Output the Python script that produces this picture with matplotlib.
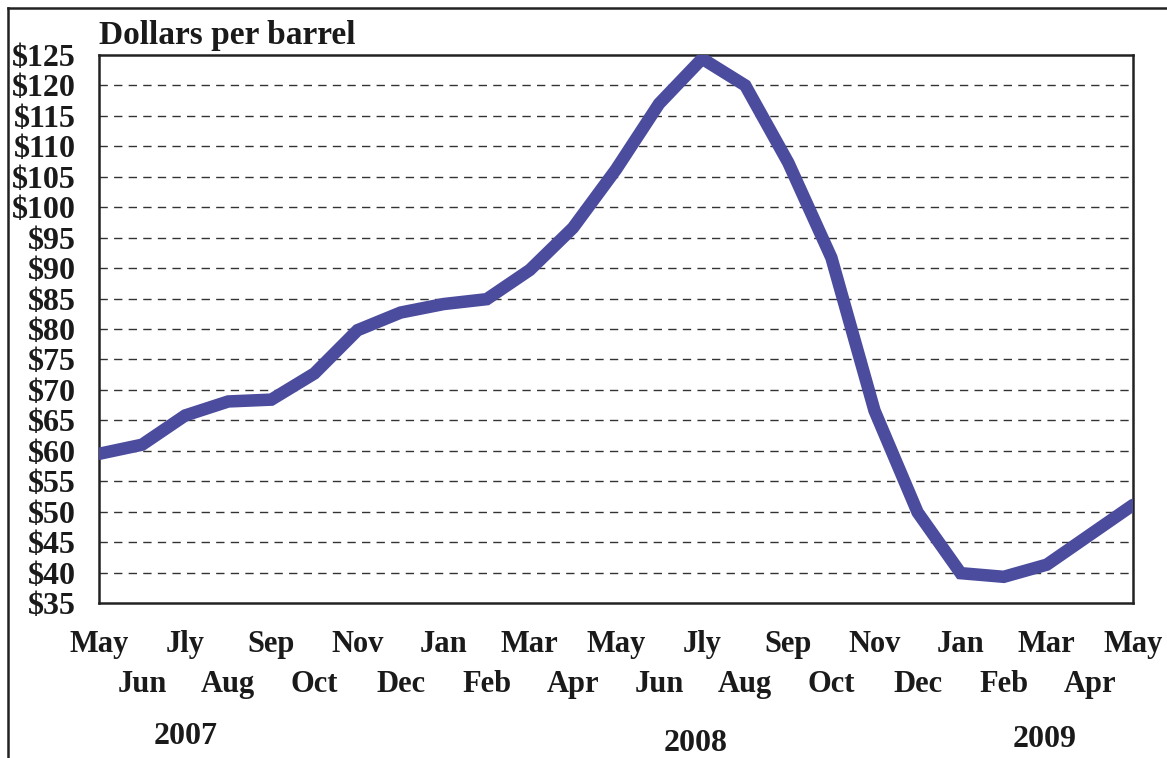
import matplotlib.pyplot as plt
from matplotlib.lines import Line2D
from matplotlib.ticker import FixedLocator, FixedFormatter

months = ["May", "Jun", "Jly", "Aug", "Sep", "Oct", "Nov", "Dec", "Jan", "Feb", "Mar", "Apr",
          "May", "Jun", "Jly", "Aug", "Sep", "Oct", "Nov", "Dec", "Jan", "Feb", "Mar", "Apr", "May"]
prices = [59.5, 61, 65.8, 68.1, 68.4, 72.7, 79.8, 82.7, 84.1, 84.9, 89.7, 96.6,
          106.2, 117.0, 124.4, 120.0, 107.3, 91.7, 66.6, 49.9, 39.9, 39.3, 41.3, 46.2, 51.1]
years = ["2007", "2008", "2009"]
year_pos = [2, 13.85, 21.95]
yticks = list(range(35, 130, 5))

plt.rcParams['font.family'] = ['Liberation Serif', 'DejaVu Serif']
plt.rcParams['font.weight'] = 'bold'
plt.rcParams['text.color'] = '#1a1a1a'
plt.rcParams['xtick.color'] = '#1a1a1a'
plt.rcParams['ytick.color'] = '#1a1a1a'

fig = plt.figure(figsize=(11.67, 7.58), dpi=100)
ax = fig.add_axes([99 / 1167, 1 - 603 / 758, (1133 - 99) / 1167, (603 - 55) / 758])

x = list(range(len(prices)))
ax.plot(x, prices, color='#4b4c9e', lw=9, solid_joinstyle='miter', solid_capstyle='round', zorder=3)

ax.set_xlim(0, len(prices) - 1)
ax.set_ylim(35, 125)
ax.set_yticks(yticks)
ax.set_yticklabels([f"${v}" for v in yticks], fontsize=23, fontweight='bold')
for v in yticks[1:-1]:
    ax.axhline(v, color='#333333', lw=1, ls=(0, (6, 4.5)), zorder=1)

# two rows of month labels
ax.xaxis.set_major_locator(FixedLocator(x[0::2]))
ax.xaxis.set_major_formatter(FixedFormatter(months[0::2]))
ax.xaxis.set_minor_locator(FixedLocator(x[1::2]))
ax.xaxis.set_minor_formatter(FixedFormatter(months[1::2]))
ax.tick_params(axis='x', which='major', length=0, pad=19.5, labelsize=22)
ax.tick_params(axis='x', which='minor', length=0, pad=48.5, labelsize=22)
ax.tick_params(axis='y', length=0, pad=17)
for lab in ax.get_xticklabels(which='both'):
    lab.set_fontweight('bold')

for sp in ax.spines.values():
    sp.set_linewidth(1.8)
    sp.set_color('#222222')

for yr, xp, yy in zip(years, year_pos, [-0.244, -0.257, -0.249]):
    ax.text(xp, yy, yr, transform=ax.get_xaxis_transform(), ha='center', va='center',
            fontsize=23, fontweight='bold')

ax.text(0.0, 1.008, "Dollars per barrel", transform=ax.transAxes, ha='left', va='bottom',
        fontsize=24, fontweight='bold')

# outer frame of the original image
fig.add_artist(Line2D([8 / 1167, 8 / 1167], [0, 1 - 8 / 758], color='#222222', lw=1.8,
                      transform=fig.transFigure))
fig.add_artist(Line2D([8 / 1167, 1], [1 - 8 / 758, 1 - 8 / 758], color='#222222', lw=1.8,
                      transform=fig.transFigure))

fig.savefig('out.png', dpi=100)
